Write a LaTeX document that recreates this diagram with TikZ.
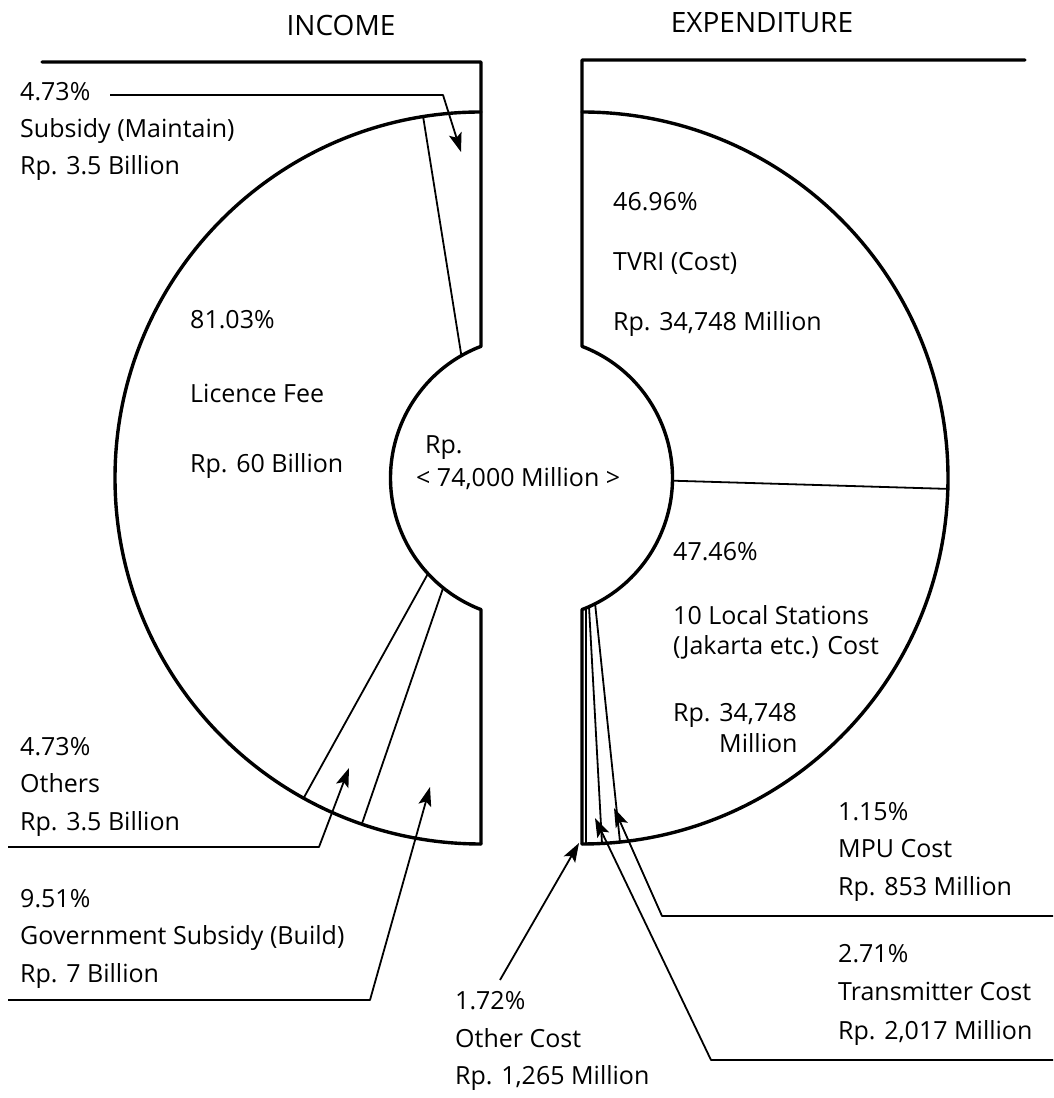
\documentclass[tikz,border=0pt]{standalone}
\usepackage{fontspec}
\setmainfont{Open Sans}
\usetikzlibrary{arrows.meta}
\begin{document}
\begin{tikzpicture}[x=1pt,y=1pt,
  rim/.style={line width=3.4pt, line join=round, line cap=round},
  seg/.style={line width=1.8pt},
  leader/.style={line width=1.8pt, line join=round, -{Stealth[length=19pt,width=13pt,inset=4pt]}},
  lbl/.style={anchor=mid west, inner sep=0pt, font=\fontsize{25}{30}\selectfont},
  ttl/.style={anchor=center, inner sep=0pt, font=\fontsize{28}{34}\selectfont}]
\useasboundingbox (0,0) rectangle (1053,1098);

% ---------- outlines ----------
% left (income) figure
\draw[rim] (42,1036) -- (481,1036) -- (481,751.65)
  arc[start angle=111, end angle=249, radius=141] -- (481,254);
\draw[rim] (481,986) arc[start angle=90, end angle=270, radius=366];
% right (expenditure) figure
\draw[rim] (1025,1038) -- (582,1038) -- (582,751.65)
  arc[start angle=69, end angle=-69, radius=141] -- (582,254);
\draw[rim] (582,986) arc[start angle=90, end angle=-90, radius=366];

% ---------- sector boundaries ----------
\draw[seg] (461.4,742.3) -- (423.1,981.4);
\draw[seg] (427.95,524.3) -- (303.6,299.9);
\draw[seg] (443.16,510.1) -- (361.8,273.9);
\draw[seg] (672.5,617.3) -- (947.8,609.1);
\draw[seg] (586,490) -- (586,254);
\draw[seg] (589.0,491.3) -- (602.0,254.5);
\draw[seg] (595.1,494.2) -- (620.0,256.0);

% ---------- titles ----------
\node[ttl] (tinc) at (341,1073) {INCOME};
\node[ttl] (texp) at (762,1075) {EXPENDITURE};

% ---------- income labels ----------
\node[lbl] (smp) at (20,1000) {4.73\%};
\node[lbl] (smn) at (20,963) {Subsidy (Maintain)};
\node[lbl] (smv) at (20,926) {Rp. 3.5 Billion};

\node[lbl] (lfp) at (190,772) {81.03\%};
\node[lbl] (lfn) at (190,698) {Licence Fee};
\node[lbl] (lfv) at (190,628) {Rp. 60 Billion};

\node[lbl] (otp) at (20,345) {4.73\%};
\node[lbl] (otn) at (20,308) {Others};
\node[lbl] (otv) at (20,270) {Rp. 3.5 Billion};

\node[lbl] (gsp) at (20,193) {9.51\%};
\node[lbl] (gsn) at (20,156) {Government Subsidy (Build)};
\node[lbl] (gsv) at (20,118) {Rp. 7 Billion};

% ---------- centre ----------
\node[lbl] (crp) at (425,647) {Rp.};
\node[lbl] (crv) at (416,614) {< 74,000 Million >};

% ---------- expenditure labels ----------
\node[lbl] (tvp) at (613,890) {46.96\%};
\node[lbl] (tvn) at (613,830) {TVRI (Cost)};
\node[lbl] (tvv) at (613,770) {Rp. 34,748 Million};

\node[lbl] (lsp) at (673,540) {47.46\%};
\node[lbl] (lsn) at (673,476) {10 Local Stations};
\node[lbl] (lsm) at (673,446) {(Jakarta etc.) Cost};
\node[lbl] (lsv) at (673,379) {Rp. 34,748};
\node[lbl] (lsu) at (719,348) {Million};

\node[lbl] (mpp) at (838,280) {1.15\%};
\node[lbl] (mpn) at (838,243) {MPU Cost};
\node[lbl] (mpv) at (838,205) {Rp. 853 Million};

\node[lbl] (trp) at (838,138) {2.71\%};
\node[lbl] (trn) at (838,100) {Transmitter Cost};
\node[lbl] (trv) at (838,61) {Rp. 2,017 Million};

\node[lbl] (ocp) at (455,91) {1.72\%};
\node[lbl] (ocn) at (455,53) {Other Cost};
\node[lbl] (ocv) at (455,16) {Rp. 1,265 Million};

% ---------- leader coordinates ----------
\coordinate (smA) at (110,1003);
\coordinate (smB) at (443,1003);
\coordinate (smT) at (461,946);

\coordinate (otA) at (8,251);
\coordinate (otB) at (319,251);
\coordinate (otT) at (349,330);

\coordinate (gsA) at (8,98);
\coordinate (gsB) at (370,98);
\coordinate (gsT) at (430,311);

\coordinate (mpA) at (1053,182);
\coordinate (mpB) at (662,182);
\coordinate (mpT) at (614,290);

\coordinate (trA) at (1053,38);
\coordinate (trB) at (711,38);
\coordinate (trT) at (595,280);

\coordinate (ocA) at (500,118);
\coordinate (ocT) at (579,255);

% ---------- leaders ----------
\draw[leader] (smA) -- (smB) -- (smT);
\draw[leader] (otA) -- (otB) -- (otT);
\draw[leader] (gsA) -- (gsB) -- (gsT);
\draw[leader] (mpA) -- (mpB) -- (mpT);
\draw[leader] (trA) -- (trB) -- (trT);
\draw[leader] (ocA) -- (ocT);
\end{tikzpicture}
\end{document}
